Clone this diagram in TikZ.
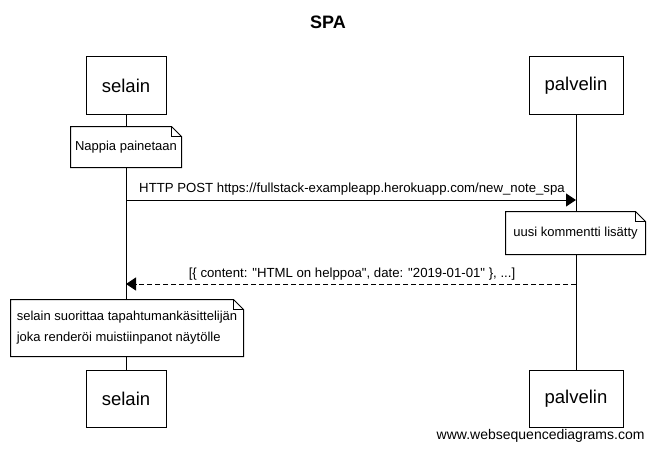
\documentclass[tikz,border=0pt]{standalone}
\usepackage{fontspec}
\setmainfont{Liberation Sans}[Ligatures=TeXOff]
\usetikzlibrary{arrows.meta}
\begin{document}
\begin{tikzpicture}[x=1pt,y=-1pt,line width=1pt,
  part/.style={draw,fill=white,minimum height=57pt,inner sep=0pt,font=\fontsize{18.5}{22}\selectfont},
  notebox/.style={fill=white,draw=none,inner sep=0pt,font=\fontsize{13}{21}\selectfont},
  msg/.style={font=\fontsize{13.2}{15}\selectfont,inner sep=0pt},
  sync/.style={-{Triangle[length=10pt,width=13pt]}},
  reply/.style={dash pattern=on 5pt off 3pt,-{Triangle[length=10pt,width=13pt]}}]
\useasboundingbox (0,0) rectangle (655,452);
\fill[white] (0,0) rectangle (655,452);
\node[font=\bfseries\fontsize{18}{22}\selectfont] (title) at (328,22) {SPA};
\node[part,minimum width=80pt] (selT) at (126,85.5) {selain};
\node[part,minimum width=94pt] (palT) at (576,85.5) {palvelin};
\node[part,minimum width=80pt] (selB) at (126,398.5) {selain};
\node[part,minimum width=94pt] (palB) at (576,398.5) {palvelin};
\draw (selT.south) -- (selB.north);
\draw (palT.south) -- (palB.north);
\node[notebox,minimum width=110pt,minimum height=40pt] (n1) at (126,147) {Nappia painetaan};
\node[notebox,minimum width=139pt,minimum height=42pt] (n2) at (575.5,233) {uusi kommentti lisätty};
\node[notebox,minimum width=232pt,minimum height=56pt,align=left] (n3) at (127,328) {selain suorittaa tapahtumankäsittelijän\\joka renderöi muistiinpanot näytölle};
\foreach \n in {n1,n2,n3}{
  \draw (\n.north west) -- ([xshift=-10pt]\n.north east) -- ([yshift=-10pt]\n.north east) -- (\n.south east) -- (\n.south west) -- cycle;
  \draw ([xshift=-10pt]\n.north east) |- ([yshift=-10pt]\n.north east);
}
\coordinate (s1) at (126,200);
\coordinate (p1) at (576,200);
\coordinate (s2) at (126,284);
\coordinate (p2) at (576,284);
\draw[sync] (s1) -- (p1);
\draw[reply] (p2) -- (s2);
\node[msg] (m1) at (352,189) {HTTP POST https://fullstack-exampleapp.herokuapp.com/new\_note\_spa};
\node[msg] (m2) at (352,274) {[\{ content: "HTML on helppoa", date: "2019-01-01" \}, ...]};
\node[font=\fontsize{14}{17}\selectfont,anchor=east,inner sep=0pt] (wm) at (645,436) {www.websequencediagrams.com};
\end{tikzpicture}
\end{document}
